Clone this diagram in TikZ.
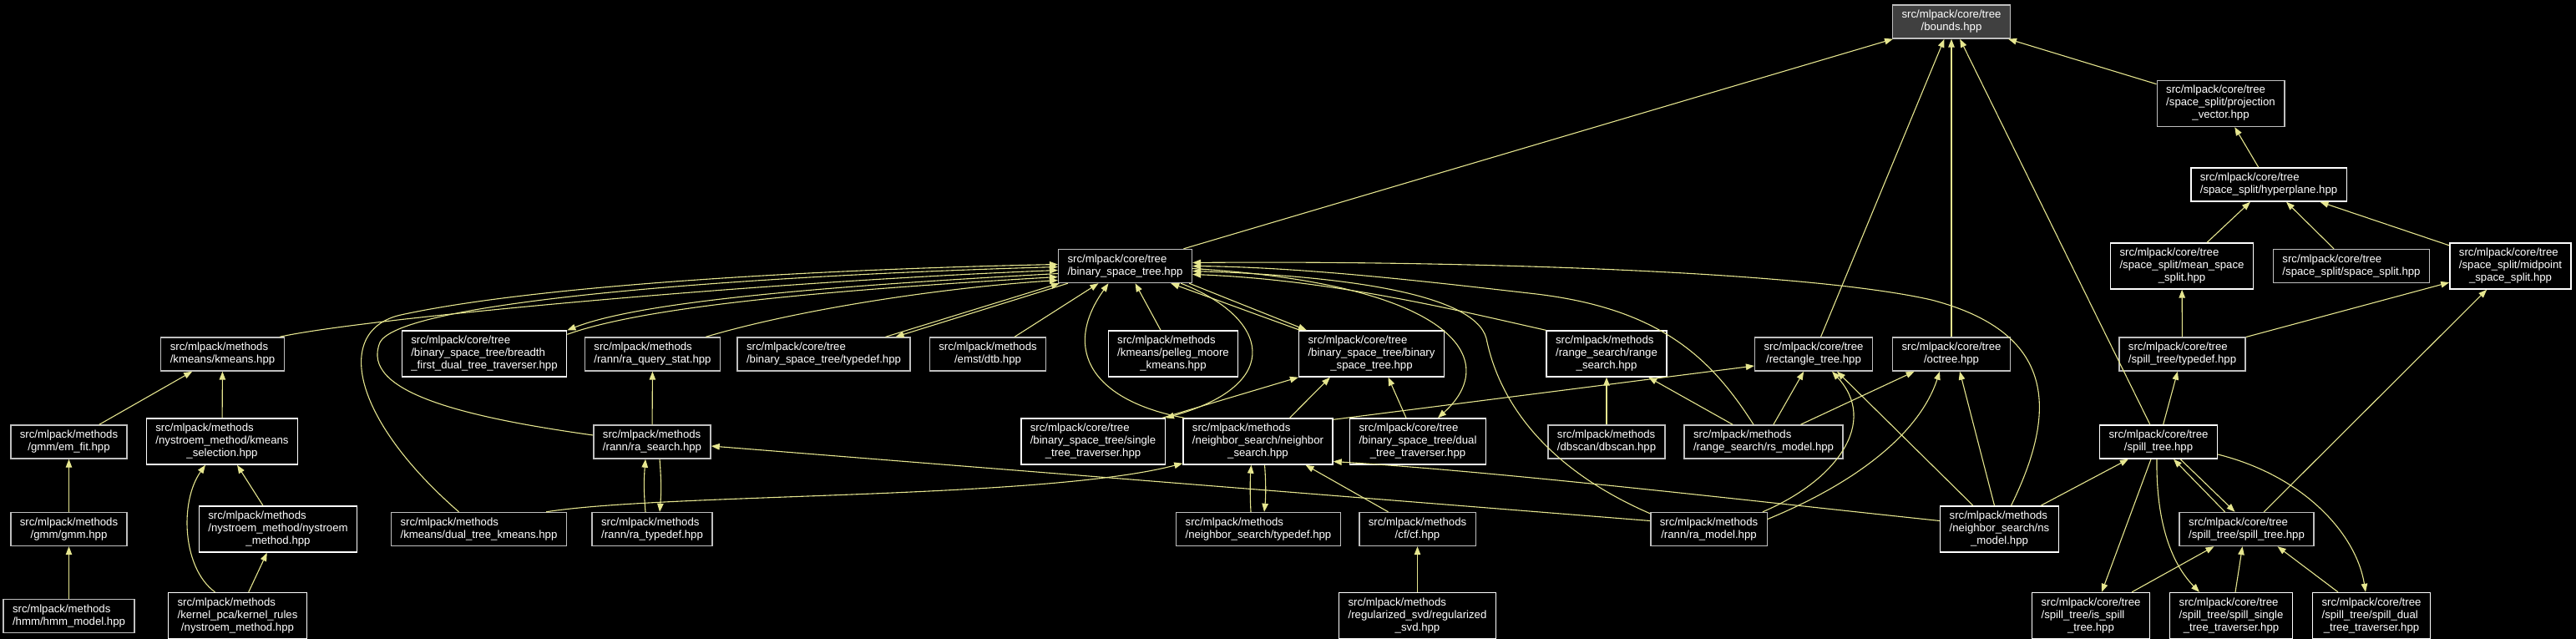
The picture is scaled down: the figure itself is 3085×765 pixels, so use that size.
\documentclass[tikz,border=0pt]{standalone}
\usepackage{fontspec}
\usepackage{tikz}
\newfontfamily\dotfont{Liberation Sans}
\definecolor{edgeyellow}{RGB}{230,230,143}
\definecolor{bordergrey}{RGB}{191,191,191}
\definecolor{rootgrey}{RGB}{64,64,64}
\usetikzlibrary{arrows.meta, calc}
%label: first lines left, last line centred
\newcommand{\flbl}[2]{\begin{tabular}{@{}l@{}}#1\\\multicolumn{1}{@{}c@{}}{#2}\end{tabular}}

\begin{document}
\begin{tikzpicture}[x=1pt, y=-1pt,
		>={Triangle[length=10pt,width=7.5pt]},   %arrow tips
		font=\dotfont\fontsize{13.2}{15}\selectfont,
		file/.style={draw=bordergrey, fill=black, text=white, line width=1.4pt, inner xsep=11pt, inner ysep=5pt},
		filew/.style={file, draw=white},
		rootfile/.style={file, fill=rootgrey},
		incl/.style={->, draw=edgeyellow, line width=1.1pt}]
		%background
		\fill[black] (0,0) rectangle (3085,765);
		\useasboundingbox (0,0) rectangle (3085,765);
		% row 0 - 3
		\node[rootfile] (bounds) at (2337,26) {\flbl{src/mlpack/core/tree}{/bounds.hpp}};
		\node[file] (proj) at (2659.5,124) {\flbl{src/mlpack/core/tree\\/space\_split/projection}{\_vector.hpp}};
		\node[filew] (hyper) at (2717,221) {\flbl{src/mlpack/core/tree}{/space\_split/hyperplane.hpp}};
		\node[filew] (meanss) at (2613,318.5) {\flbl{src/mlpack/core/tree\\/space\_split/mean\_space}{\_split.hpp}};
		\node[file] (spsplit) at (2816,318.5) {\flbl{src/mlpack/core/tree}{/space\_split/space\_split.hpp}};
		\node[filew] (midss) at (3006.5,318.5) {\flbl{src/mlpack/core/tree\\/space\_split/midpoint}{\_space\_split.hpp}};
		\node[file] (bst) at (1347.5,318.5) {\flbl{src/mlpack/core/tree}{/binary\_space\_tree.hpp}};
		% row 4
		\node[file] (kmeans) at (266.5,424) {\flbl{src/mlpack/methods}{/kmeans/kmeans.hpp}};
		\node[filew] (bfdtt) at (580,423.5) {\flbl{src/mlpack/core/tree\\/binary\_space\_tree/breadth}{\_first\_dual\_tree\_traverser.hpp}};
		\node[file] (raqs) at (781.5,424) {\flbl{src/mlpack/methods}{/rann/ra\_query\_stat.hpp}};
		\node[file] (bsttd) at (986.5,424) {\flbl{src/mlpack/core/tree}{/binary\_space\_tree/typedef.hpp}};
		\node[file] (dtb) at (1183,424) {\flbl{src/mlpack/methods}{/emst/dtb.hpp}};
		\node[filew] (pelleg) at (1405,423.5) {\flbl{src/mlpack/methods\\/kmeans/pelleg\_moore}{\_kmeans.hpp}};
		\node[filew] (bstb) at (1642.5,423.5) {\flbl{src/mlpack/core/tree\\/binary\_space\_tree/binary}{\_space\_tree.hpp}};
		\node[filew] (rangesearch) at (1924,423.5) {\flbl{src/mlpack/methods\\/range\_search/range}{\_search.hpp}};
		\node[file] (recttree) at (2172,424) {\flbl{src/mlpack/core/tree}{/rectangle\_tree.hpp}};
		\node[file] (octree) at (2337,424) {\flbl{src/mlpack/core/tree}{/octree.hpp}};
		\node[file] (spilltd) at (2613.5,424) {\flbl{src/mlpack/core/tree}{/spill\_tree/typedef.hpp}};
		% row 5
		\node[file] (emfit) at (82.5,529) {\flbl{src/mlpack/methods}{/gmm/em\_fit.hpp}};
		\node[filew] (kmsel) at (266,528.5) {\flbl{src/mlpack/methods\\/nystroem\_method/kmeans}{\_selection.hpp}};
		\node[file] (rasearch) at (781,529) {\flbl{src/mlpack/methods}{/rann/ra\_search.hpp}};
		\node[filew] (stt) at (1309,528.5) {\flbl{src/mlpack/core/tree\\/binary\_space\_tree/single}{\_tree\_traverser.hpp}};
		\node[filew] (ns) at (1506.5,528.5) {\flbl{src/mlpack/methods\\/neighbor\_search/neighbor}{\_search.hpp}};
		\node[filew] (dtt) at (1698,528.5) {\flbl{src/mlpack/core/tree\\/binary\_space\_tree/dual}{\_tree\_traverser.hpp}};
		\node[file] (dbscan) at (1924,529) {\flbl{src/mlpack/methods}{/dbscan/dbscan.hpp}};
		\node[file] (rsmodel) at (2112,529) {\flbl{src/mlpack/methods}{/range\_search/rs\_model.hpp}};
		\node[filew] (spilltree) at (2585,529) {\flbl{src/mlpack/core/tree}{/spill\_tree.hpp}};
		% row 6
		\node[file] (gmm) at (82.5,633.5) {\flbl{src/mlpack/methods}{/gmm/gmm.hpp}};
		\node[filew] (nysm) at (333,633.5) {\flbl{src/mlpack/methods\\/nystroem\_method/nystroem}{\_method.hpp}};
		\node[file] (dtkm) at (573.5,633.5) {\flbl{src/mlpack/methods}{/kmeans/dual\_tree\_kmeans.hpp}};
		\node[file] (ratd) at (781,633.5) {\flbl{src/mlpack/methods}{/rann/ra\_typedef.hpp}};
		\node[file] (nstd) at (1507,633.5) {\flbl{src/mlpack/methods}{/neighbor\_search/typedef.hpp}};
		\node[file] (cf) at (1697.5,633.5) {\flbl{src/mlpack/methods}{/cf/cf.hpp}};
		\node[file] (ramodel) at (2046.5,633.5) {\flbl{src/mlpack/methods}{/rann/ra\_model.hpp}};
		\node[filew] (nsmodel) at (2394.5,633.5) {\flbl{src/mlpack/methods\\/neighbor\_search/ns}{\_model.hpp}};
		\node[file] (sst) at (2690.5,633.5) {\flbl{src/mlpack/core/tree}{/spill\_tree/spill\_tree.hpp}};
		% row 7
		\node[file] (hmm) at (82.5,737.5) {\flbl{src/mlpack/methods}{/hmm/hmm\_model.hpp}};
		\node[filew] (krnys) at (284.5,737) {\flbl{src/mlpack/methods\\/kernel\_pca/kernel\_rules}{/nystroem\_method.hpp}};
		\node[filew] (rsvd) at (1697.5,737) {\flbl{src/mlpack/methods\\/regularized\_svd/regularized}{\_svd.hpp}};
		\node[filew] (isspill) at (2504,737) {\flbl{src/mlpack/core/tree\\/spill\_tree/is\_spill}{\_tree.hpp}};
		\node[filew] (sstt) at (2672,737) {\flbl{src/mlpack/core/tree\\/spill\_tree/spill\_single}{\_tree\_traverser.hpp}};
		\node[filew] (sdtt) at (2840,737) {\flbl{src/mlpack/core/tree\\/spill\_tree/spill\_dual}{\_tree\_traverser.hpp}};
		% into bounds.hpp and space_split
		\draw[incl] (bst) -- (bounds);
		\draw[incl] (proj) -- (bounds);
		\draw[incl] (recttree) -- (bounds);
		\draw[incl] (octree) -- (bounds);
		\draw[incl] (spilltree) -- (bounds);
		\draw[incl] (hyper) -- (proj);
		\draw[incl] (meanss) -- (hyper);
		\draw[incl] (spsplit) -- (hyper);
		\draw[incl] (midss) -- (hyper);
		\draw[incl] (spilltd) -- (meanss);
		\draw[incl] (spilltd) -- (midss);
		\draw[incl] (spilltree) -- (spilltd);
		\draw[incl] (sst) -- (midss);
		% kmeans, gmm, nystroem
		\draw[incl] (emfit) -- (kmeans);
		\draw[incl] (kmsel) -- (kmeans);
		\draw[incl] (gmm) -- (emfit);
		\draw[incl] (hmm) -- (gmm);
		\draw[incl] (nysm) -- (kmsel);
		\draw[incl] (krnys) -- (nysm);
		\draw[incl] ($(krnys.north)+(-27,0)$) .. controls (218,680) and (215,600) .. ($(kmsel.south)+(-20,0)$);
		% into binary_space_tree.hpp from the left
		\draw[incl] ($(kmeans.north east)+(-6,0)$) .. controls (430,382) and (900,338) .. ($(bst.west)+(0,5)$);
		\draw[incl] ($(dtkm.north)+(-24,0)$) .. controls (420,500) and (400,395) .. (480,377) .. controls (650,340) and (1000,322) .. ($(bst.west)+(0,-2)$);
		\draw[incl] ($(rasearch.west)+(0,-8)$) .. controls (560,500) and (430,470) .. (455,410) .. controls (480,360) and (900,330) .. ($(bst.west)+(0,1)$);
		\draw[incl] ($(bst.west)+(0,9)$) .. controls (1000,342) and (770,360) .. (bfdtt.north east);
		\draw[incl] ($(bfdtt.north east)+(0,5)$) .. controls (775,366) and (1000,347) .. ($(bst.west)+(0,13)$);
		\draw[incl] ($(raqs.north east)+(-18,0)$) .. controls (950,372) and (1120,345) .. ($(bst.west)+(0,17)$);
		\draw[incl] ($(bst.south west)+(12,0)$) -- ($(bsttd.north)+(86,0)$);
		\draw[incl] ($(bsttd.north)+(74,0)$) -- ($(bst.south west)+(2,0)$);
		\draw[incl] ($(dtb.north)+(32,0)$) -- ($(bst.south)+(-32,0)$);
		\draw[incl] ($(pelleg.north)+(-15,0)$) -- ($(bst.south)+(12,0)$);
		\draw[incl] ($(ns.north west)+(2,0)$) .. controls (1310,480) and (1270,420) .. ($(bst.south)+(-20,0)$);
		% binary_space_tree folder
		\draw[incl] ($(bst.south east)+(-14,0)$) .. controls (1520,380) and (1540,460) .. (stt.north east);
		\draw[incl] ($(stt.north east)+(-4,0)$) -- (bstb.south west);
		\draw[incl] ($(bst.south east)+(-4,0)$) -- ($(bstb.north west)+(10,0)$);
		\draw[incl] ($(bstb.north west)+(2,0)$) -- ($(bst.south east)+(-26,0)$);
		\draw[incl] ($(ns.north)+(38,0)$) -- ($(bstb.south west)+(38,0)$);
		\draw[incl] ($(dtt.north)+(-14,0)$) -- ($(bstb.south)+(20,0)$);
		\draw[incl] ($(bst.east)+(0,3)$) .. controls (1740,340) and (1800,430) .. ($(dtt.north)+(24,0)$);
		% into binary_space_tree.hpp from the right
		\draw[incl] (rangesearch.north west) .. controls (1760,375) and (1600,335) .. ($(bst.east)+(0,10)$);
		\draw[incl] ($(rsmodel.north)+(-12,0)$) .. controls (2050,430) and (1990,370) .. (1840,352) .. controls (1700,336) and (1560,320) .. (bst.east);
		\draw[incl] ($(ramodel.north west)+(0,2)$) .. controls (1850,560) and (1795,480) .. (1780,405) .. controls (1765,350) and (1600,330) .. ($(bst.east)+(0,6)$);
		\draw[incl] ($(nsmodel.north)+(14,0)$) .. controls (2460,500) and (2470,400) .. (2313,359) .. controls (2150,322) and (1700,312) .. ($(bst.east)+(0,-4)$);
		% range search, rann
		\draw[incl] (dbscan) -- (rangesearch);
		\draw[incl] (rsmodel) -- (rangesearch);
		\draw[incl] (rsmodel) -- (recttree);
		\draw[incl] (rsmodel) -- (octree);
		\draw[incl] (rasearch) -- (raqs);
		\draw[incl] ($(rasearch.south)+(9,0)$) .. controls (792,575) and (792,590) .. ($(ratd.north)+(9,0)$);
		\draw[incl] ($(ratd.north)+(-8,0)$) .. controls (771,590) and (771,575) .. ($(rasearch.south)+(-8,0)$);
		\draw[incl] ($(ramodel.west)+(0,-10)$) -- ($(rasearch.east)+(0,5)$);
		\draw[incl] ($(ramodel.north east)+(-6,0)$) .. controls (2200,575) and (2250,505) .. ($(recttree.south)+(22,0)$);
		\draw[incl] ($(ramodel.east)+(0,-12)$) .. controls (2230,575) and (2300,515) .. ($(octree.south)+(-14,0)$);
		% neighbor search
		\draw[incl] ($(ns.north east)+(0,2)$) -- ($(recttree.west)+(0,14)$);
		\draw[incl] ($(ns.south)+(8,0)$) .. controls (1516,575) and (1516,595) .. ($(nstd.north)+(7,0)$);
		\draw[incl] ($(nstd.north)+(-9,0)$) .. controls (1497,595) and (1497,575) .. ($(ns.south)+(-8,0)$);
		\draw[incl] ($(cf.north)+(-35,0)$) -- ($(ns.south)+(57,0)$);
		\draw[incl] (rsvd) -- (cf);
		\draw[incl] ($(dtkm.north east)+(-25,0)$) .. controls (800,590) and (1250,598) .. ($(ns.south west)+(0,-2)$);
		\draw[incl] ($(nsmodel.west)+(0,-10)$) .. controls (2100,600) and (1800,565) .. ($(ns.east)+(0,24)$);
		\draw[incl] ($(nsmodel.north west)+(40,0)$) -- ($(recttree.south)+(28,0)$);
		\draw[incl] ($(nsmodel.north)+(-6,0)$) -- ($(octree.south)+(10,0)$);
		\draw[incl] ($(nsmodel.north east)+(-22,0)$) -- ($(spilltree.south west)+(35,0)$);
		% spill tree
		\draw[incl] ($(spilltree.south east)+(-45,0)$) -- ($(sst.north)+(-14,0)$);
		\draw[incl] ($(sst.north)+(-26,0)$) -- ($(spilltree.south)+(18,0)$);
		\draw[incl] ($(spilltree.south)+(-9,0)$) -- ($(isspill.north)+(13,0)$);
		\draw[incl] ($(spilltree.south)+(-2,0)$) .. controls (2582,620) and (2598,672) .. ($(sstt.north)+(-38,0)$);
		\draw[incl] ($(spilltree.east)+(0,15)$) .. controls (2760,570) and (2822,640) .. ($(sdtt.north)+(-7,0)$);
		\draw[incl] ($(isspill.north east)+(-22,0)$) -- ($(sst.south west)+(42,0)$);
		\draw[incl] ($(sstt.north)+(5,0)$) -- ($(sst.south)+(-5,0)$);
		\draw[incl] ($(sdtt.north)+(-40,0)$) -- ($(sst.south)+(37,0)$);
	\end{tikzpicture}
\end{document}
